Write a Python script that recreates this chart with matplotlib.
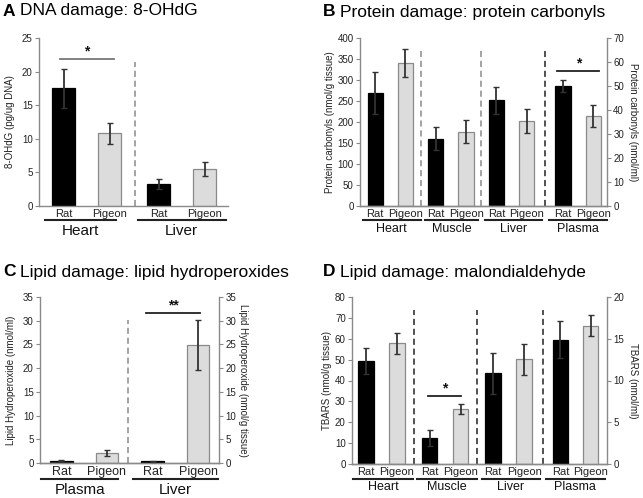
import numpy as np
import matplotlib.pyplot as plt

# ---- data ----
species = ['Rat', 'Pigeon']

# A: 8-OHdG (pg/ug DNA)
a_tissues = ['Heart', 'Liver']
a_vals = [17.5, 10.8, 3.3, 5.5]
a_err = [2.9, 1.5, 0.7, 1.1]

# B: protein carbonyls; tissues nmol/g tissue (left), plasma nmol/ml (right)
b_tissues = ['Heart', 'Muscle', 'Liver', 'Plasma']
b_vals = [270, 340, 160, 177, 252, 202]
b_err = [50, 33, 27, 27, 32, 29]
b_plasma = [50.0, 37.6]
b_plasma_err = [2.5, 4.5]

# C: lipid hydroperoxides; plasma nmol/ml (left), liver nmol/g tissue (right)
c_tissues = ['Plasma', 'Liver']
c_plasma = [0.5, 2.1]
c_plasma_err = [0.1, 0.6]
c_liver = [0.4, 24.9]
c_liver_err = [0.1, 5.3]

# D: TBARS; tissues nmol/g tissue (left), plasma nmol/ml (right)
d_tissues = ['Heart', 'Muscle', 'Liver', 'Plasma']
d_vals = [49.5, 57.8, 12.5, 26.4, 43.5, 50.2]
d_err = [6.3, 5.0, 4.0, 2.3, 9.8, 7.4]
d_plasma = [14.9, 16.55]
d_plasma_err = [2.2, 1.25]

plt.rcParams['font.family'] = ['Liberation Sans', 'DejaVu Sans']

BLACK = '#000000'
GREY = '#dcdcdc'
EDGE = '#8a8a8a'
AX = '#8a8a8a'
TXT = '#222222'

fig = plt.figure(figsize=(6.43, 4.98), dpi=100)


def style(ax, right=False):
    ax.spines['top'].set_visible(False)
    ax.spines['right'].set_visible(right)
    for s in ['left', 'bottom', 'right']:
        ax.spines[s].set_color(AX)
        ax.spines[s].set_linewidth(1.0)
    ax.tick_params(axis='y', length=3, width=0.8, color=AX, labelsize=7, labelcolor=TXT, pad=1.5)
    ax.tick_params(axis='x', length=0, labelsize=8, labelcolor=TXT, pad=2)


def bars(ax, x, vals, err, width=0.5):
    cols = [BLACK, GREY] * (len(vals) // 2)
    edges = [BLACK, EDGE] * (len(vals) // 2)
    ax.bar(x, vals, width, color=cols, edgecolor=edges, linewidth=0.9, zorder=2)
    ax.errorbar(x, vals, yerr=err, fmt='none', ecolor='#333333', elinewidth=1.3,
                capsize=2, capthick=1.0, zorder=3)


def groups(ax, spans, names, y_line, y_text, size):
    tr = ax.get_xaxis_transform()
    for (x0, x1), n in zip(spans, names):
        ax.plot([x0, x1], [y_line, y_line], color='#222222', lw=1.5,
                transform=tr, clip_on=False)
        ax.text((x0 + x1) / 2, y_text, n, transform=tr, ha='center', va='center',
                fontsize=size, color='#111111')


def divider(ax, x, top, color):
    ax.plot([x, x], [0, top], color=color, lw=1.1, ls=(0, (4, 2.5)), zorder=1,
            transform=ax.get_xaxis_transform(), clip_on=False)


def sig(ax, x0, x1, y, label, color):
    ax.plot([x0, x1], [y, y], color=color, lw=1.3, zorder=3)
    ax.text((x0 + x1) / 2, y, label, ha='center', va='bottom', fontsize=10,
            color='#111111', fontweight='bold')


def title(x, y, letter, text):
    fig.text(x, y, letter, fontsize=12.5, fontweight='bold', va='center', ha='left')
    fig.text(x + 0.026, y, text, fontsize=12.5, va='center', ha='left')


# ---------- A ----------
axA = fig.add_axes([39 / 643, 292 / 498, 189 / 643, 168 / 498])
xa = [0, 1, 2.05, 3.05]
bars(axA, xa, a_vals, a_err)
axA.set_xlim(-0.53, 3.55)
axA.set_ylim(0, 25)
axA.set_yticks(range(0, 26, 5))
axA.set_xticks(xa)
axA.set_xticklabels(species * 2)
style(axA)
divider(axA, 1.54, 0.86, AX)
sig(axA, -0.08, 1.08, 21.9, '*', '#777777')
groups(axA, [(-0.40, 1.13), (1.6, 3.5)], a_tissues, -0.083, -0.15, 11)
axA.set_ylabel('8-OHdG (pg/ug DNA)', fontsize=7, color=TXT, labelpad=5)
title(3 / 643, 1 - 11 / 498, 'A', 'DNA damage: 8-OHdG')

# ---------- B ----------
axB = fig.add_axes([360 / 643, 292 / 498, 247 / 643, 168 / 498])
xb = [0, 1, 2, 3, 4, 5]
xb_p = [6.2, 7.2]
bars(axB, xb, b_vals, b_err)
axB.set_xlim(-0.5, 7.65)
axB.set_ylim(0, 400)
axB.set_yticks(range(0, 401, 50))
axB.set_xticks(xb + xb_p)
axB.set_xticklabels(species * 4)
style(axB)
axB2 = axB.twinx()
bars(axB2, xb_p, b_plasma, b_plasma_err)
axB2.set_ylim(0, 70)
axB2.set_yticks(range(0, 71, 10))
style(axB2, right=True)
axB2.spines['left'].set_visible(False)
axB2.tick_params(axis='y', direction='out')
for xd, c in [(1.5, AX), (3.5, AX), (5.62, '#222222')]:
    divider(axB, xd, 0.92, c)
sig(axB2, 6.0, 7.4, 56.3, '*', '#222222')
groups(axB, [(-0.41, 1.5), (1.66, 3.38), (3.64, 5.49), (5.72, 7.64)], b_tissues,
       -0.083, -0.137, 9)
axB.set_ylabel('Protein carbonyls (nmol/g tissue)', fontsize=7, color=TXT, labelpad=2)
axB2.set_ylabel('Protein carbonyls (nmol/ml)', fontsize=7, color=TXT, rotation=270,
                labelpad=10)
title(323 / 643, 1 - 12 / 498, 'B', 'Protein damage: protein carbonyls')

# ---------- C ----------
axC = fig.add_axes([40 / 643, 35 / 498, 179 / 643, 166 / 498])
xc_p = [0, 1]
xc_l = [2, 3]
bars(axC, xc_p, c_plasma, c_plasma_err)
axC.set_xlim(-0.47, 3.46)
axC.set_ylim(0, 35)
axC.set_yticks(range(0, 36, 5))
axC.set_xticks(xc_p + xc_l)
axC.set_xticklabels(species * 2)
style(axC)
axC.tick_params(axis='x', labelsize=9)
axC2 = axC.twinx()
bars(axC2, xc_l, c_liver, c_liver_err)
axC2.set_ylim(0, 35)
axC2.set_yticks(range(0, 36, 5))
style(axC2, right=True)
axC2.spines['left'].set_visible(False)
divider(axC, 1.46, 0.86, AX)
sig(axC2, 1.85, 3.05, 31.7, '**', '#222222')
groups(axC, [(-0.45, 1.25), (1.57, 3.44)], c_tissues, -0.096, -0.163, 11)
axC.set_ylabel('Lipid Hydroperoxide (nmol/ml)', fontsize=7, color=TXT, labelpad=5)
axC2.set_ylabel('Lipid Hydroperoxide (nmol/g tissue)', fontsize=7, color=TXT,
                rotation=270, labelpad=9)
title(3 / 643, 1 - 272 / 498, 'C', 'Lipid damage: lipid hydroperoxides')

# ---------- D ----------
axD = fig.add_axes([352 / 643, 34 / 498, 255 / 643, 167 / 498])
xd_t = [0, 1, 2.05, 3.05, 4.1, 5.1]
xd_p = [6.27, 7.24]
bars(axD, xd_t, d_vals, d_err)
axD.set_xlim(-0.45, 7.77)
axD.set_ylim(0, 80)
axD.set_yticks(range(0, 81, 10))
axD.set_xticks(xd_t + xd_p)
axD.set_xticklabels(species * 4)
style(axD)
axD2 = axD.twinx()
bars(axD2, xd_p, d_plasma, d_plasma_err)
axD2.set_ylim(0, 20)
axD2.set_yticks(range(0, 21, 5))
style(axD2, right=True)
axD2.spines['left'].set_visible(False)
for xv in [1.55, 3.58, 5.7]:
    divider(axD, xv, 0.92, '#222222')
sig(axD, 2.0, 3.05, 32.8, '*', '#222222')
groups(axD, [(-0.42, 1.52), (1.65, 3.58), (3.74, 5.6), (5.8, 7.7)], d_tissues,
       -0.09, -0.14, 9)
axD.set_ylabel('TBARS (nmol/g tissue)', fontsize=7, color=TXT, labelpad=2)
axD2.set_ylabel('TBARS (nmol/ml)', fontsize=7, color=TXT, rotation=270, labelpad=10)
title(323 / 643, 1 - 272 / 498, 'D', 'Lipid damage: malondialdehyde')

fig.savefig('out.png', dpi=100)
